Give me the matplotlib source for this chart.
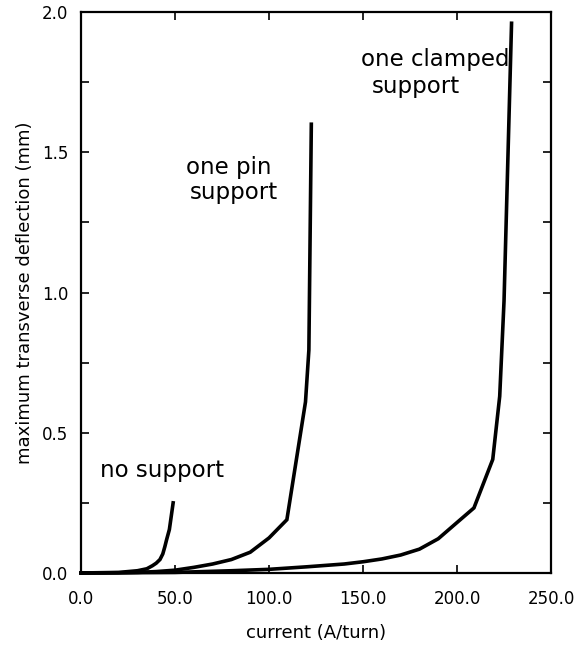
import matplotlib
matplotlib.use("Agg")
import matplotlib.pyplot as plt
from matplotlib.ticker import MultipleLocator, FormatStrFormatter

# ---------------------- DATA ----------------------
# current (A/turn) vs maximum transverse deflection (mm)
no_support_x = [0, 20, 30, 35, 38, 40, 42, 43.5, 44.6, 45.5, 47, 49]
no_support_y = [0, 0.002, 0.008, 0.015, 0.026, 0.035, 0.048, 0.068, 0.094, 0.118, 0.155, 0.25]

pin_x = [0, 20, 30, 40, 50, 60, 70, 80, 90, 100, 109.5, 119.4, 121.2, 122.5]
pin_y = [0, 0.0005, 0.002, 0.005, 0.01, 0.02, 0.032, 0.048, 0.074, 0.125, 0.19, 0.61, 0.795, 1.6]

clamped_x = [0, 50, 80, 100, 120, 140, 150, 160, 170, 180, 190, 200, 209, 219, 222.7, 225, 229]
clamped_y = [0, 0.002, 0.008, 0.013, 0.022, 0.032, 0.04, 0.05, 0.064, 0.085, 0.122, 0.18, 0.232,
             0.405, 0.63, 0.97, 1.96]

x_ticks = [0, 50, 100, 150, 200, 250]
y_ticks = [0.0, 0.5, 1.0, 1.5, 2.0]
# --------------------------------------------------

plt.rcParams["font.family"] = ["DejaVu Sans"]

fig = plt.figure(figsize=(5.77, 6.47), dpi=100)
ax = fig.add_axes([0.1404, 0.1144, 0.8146, 0.867])

for xs, ys in [(no_support_x, no_support_y), (pin_x, pin_y), (clamped_x, clamped_y)]:
    ax.plot(xs, ys, color="black", linewidth=2.6, solid_joinstyle="miter", clip_on=False)

ax.set_xlim(0, 250)
ax.set_ylim(0, 2.0)
ax.set_xticks(x_ticks)
ax.set_yticks(y_ticks)
ax.yaxis.set_minor_locator(MultipleLocator(0.25))
ax.xaxis.set_major_formatter(FormatStrFormatter("%.1f"))
ax.yaxis.set_major_formatter(FormatStrFormatter("%.1f"))

ax.tick_params(which="both", direction="in", top=True, right=True, length=6, width=1.2)
ax.tick_params(axis="x", labelsize=12, pad=12)
ax.tick_params(axis="y", labelsize=12, pad=9)

for spine in ax.spines.values():
    spine.set_linewidth(1.6)

ax.set_xlabel("current (A/turn)", fontsize=13, labelpad=12)
ax.set_ylabel("maximum transverse deflection (mm)", fontsize=13, labelpad=6)

# curve annotations
ax.text(10, 0.367, "no support", fontsize=16.5, va="center", ha="left")
ax.text(55.7, 1.447, "one pin", fontsize=16.5, va="center", ha="left")
ax.text(58.0, 1.358, "support", fontsize=16.5, va="center", ha="left")
ax.text(148.9, 1.829, "one clamped", fontsize=16.5, va="center", ha="left")
ax.text(154.9, 1.733, "support", fontsize=16.5, va="center", ha="left")

fig.savefig("out.png", dpi=100)
